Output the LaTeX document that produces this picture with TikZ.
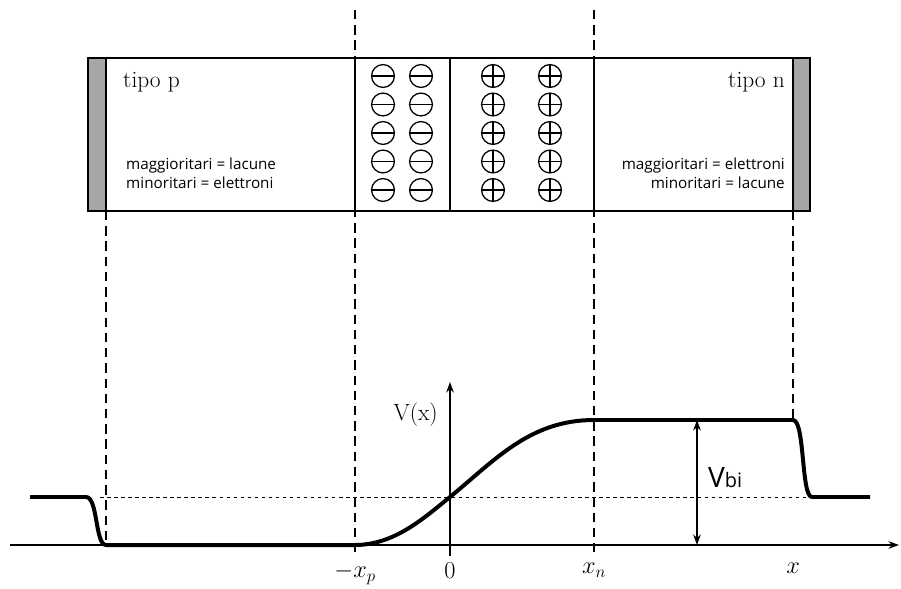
\documentclass[tikz,border=0pt]{standalone}
\usepackage{fontspec}
\newfontfamily\notefont{Open Sans}
\usetikzlibrary{calc,positioning,arrows.meta}
\definecolor{ContactGray}{HTML}{A6A6A6}

\begin{document}
\begin{tikzpicture}[
    x=0.03cm, y=-0.03cm,
    guide/.style={line width=0.9pt, dash pattern=on 8pt off 5pt},
    level/.style={line width=0.7pt, dash pattern=on 3pt off 3pt},
    potential/.style={line width=3.4pt, line join=round},
    axis/.style={line width=1pt, -{Stealth[length=9pt,width=6.5pt]}},
    charge/.style={circle, draw, line width=1.1pt, minimum size=19.5pt, inner sep=0pt},
    negcharge/.style={charge, path picture={
        \draw[line width=1.1pt] (path picture bounding box.west) -- (path picture bounding box.east);}},
    poscharge/.style={charge, path picture={
        \draw[line width=1.1pt] (path picture bounding box.west) -- (path picture bounding box.east);
        \draw[line width=1.1pt] (path picture bounding box.north) -- (path picture bounding box.south);}},
    serif/.style={inner sep=0pt, font=\fontsize{20}{24}\selectfont},
    note/.style={inner sep=0pt, font=\notefont\fontsize{13}{15}\selectfont}
  ]
  \useasboundingbox (0,0) rectangle (901,588);

  % diode
  \fill[ContactGray] (88,58) rectangle (106,211);
  \fill[ContactGray] (793,58) rectangle (810,211);
  \draw[line width=1.2pt] (88,58) rectangle (810,211);
  \draw[line width=1.2pt] (106,58) -- (106,211) (793,58) -- (793,211)
    (355,58) -- (355,211) (450,58) -- (450,211) (594,58) -- (594,211);

  \node[serif, anchor=base west] (ptype) at (123,87) {tipo p};
  \node[serif, anchor=base east] (ntype) at (785,87) {tipo n};
  \node[note, anchor=base west] (pmaj) at (126,169) {maggioritari = lacune};
  \node[note, anchor=base west] (pmin) at (126,188) {minoritari = elettroni};
  \node[note, anchor=base east] (nmaj) at (785,169) {maggioritari = elettroni};
  \node[note, anchor=base east] (nmin) at (785,188) {minoritari = lacune};

  \foreach \r in {0,...,4}{
    \node[negcharge] (na-\r) at (383,76+28.5*\r) {};
    \node[negcharge] (nb-\r) at (421,76+28.5*\r) {};
    \node[poscharge] (pa-\r) at (493,76+28.5*\r) {};
    \node[poscharge] (pb-\r) at (550,76+28.5*\r) {};
  }

  % guides
  \coordinate (xp top) at (355,10);
  \coordinate (xp bot) at (355,556);
  \coordinate (xn top) at (594,10);
  \coordinate (xn bot) at (594,556);
  \coordinate (pc top) at (106,211);
  \coordinate (pc bot) at (106,545);
  \coordinate (nc top) at (793,211);
  \coordinate (nc bot) at (793,420);
  \draw[guide] (xp top) -- (xp bot);
  \draw[guide] (xn top) -- (xn bot);
  \draw[guide] (pc top) -- (pc bot);
  \draw[guide] (nc top) -- (nc bot);

  % axes
  \coordinate (x start) at (10,545);
  \coordinate (x end) at (899,545);
  \coordinate (v start) at (450,556);
  \coordinate (v end) at (450,382);
  \draw[axis] (x start) -- (x end);
  \draw[axis] (v start) -- (v end);
  \coordinate (lv start) at (100,497);
  \coordinate (lv end) at (810,497);
  \draw[level] (lv start) -- (lv end);

  \draw[potential] (30,497) -- (86,497) .. controls (98,497) and (95,545) .. (106,545)
    -- (355,545) .. controls (395,545) and (425,517) .. (450,497)
    .. controls (495,460) and (530,420) .. (594,420) -- (793,420)
    .. controls (805,420) and (801,497) .. (812,497) -- (870,497);

  \coordinate (vbi top) at (697,420);
  \coordinate (vbi bot) at (697,545);
  \draw[line width=1.1pt, {Stealth[length=9pt,width=6.5pt]}-{Stealth[length=9pt,width=6.5pt]}] (vbi top) -- (vbi bot);
  \node[inner sep=0pt, anchor=base west] (vbi) at (708,487)
    {\notefont\fontsize{24}{24}\selectfont V\fontsize{17}{17}\selectfont bi};
  \node[serif, anchor=base east] (vx) at (438,420) {V(x)};

  \node[serif, anchor=north] (lxp) at (355,563) {$-x_p$};
  \node[serif, anchor=north] (lzero) at (450,563) {$0$};
  \node[serif, anchor=north] (lxn) at (594,563) {$x_n$};
  \node[serif, anchor=north] (lx) at (793,563) {$x$};
\end{tikzpicture}
\end{document}
